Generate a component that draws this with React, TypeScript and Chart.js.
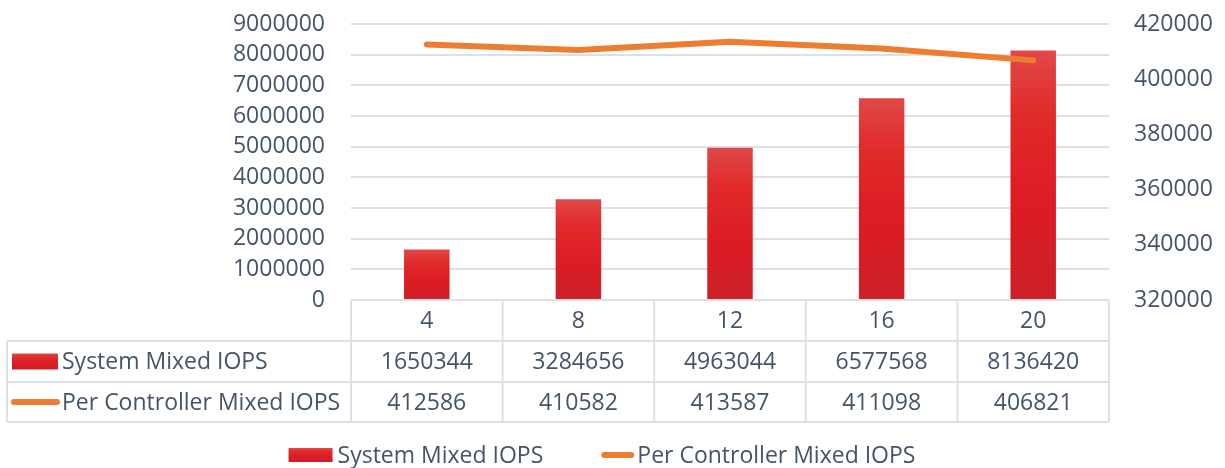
import React, { useEffect, useRef } from "react";
import { Chart, registerables } from "chart.js";

Chart.register(...registerables);

const categories = ["4", "8", "12", "16", "20"];
const systemIops = [1650344, 3284656, 4963044, 6577568, 8136420];
const perControllerIops = [412586, 410582, 413587, 411098, 406821];
const seriesNames = ["System Mixed IOPS", "Per Controller Mixed IOPS"];

const FONT = "'Open Sans', 'Noto Sans', sans-serif";
const FONT_SIZE = 23;
const TEXT = "#44546A";
const GRID = "#DCE1E8";
const ORANGE = "#ED7D31";

function barGradient(ctx: CanvasRenderingContext2D, top: number, bottom: number) {
  const g = ctx.createLinearGradient(0, top, 0, bottom);
  g.addColorStop(0, "#E14848");
  g.addColorStop(0.25, "#E02B2B");
  g.addColorStop(0.6, "#DD1C24");
  g.addColorStop(1, "#CC2027");
  return g;
}

const tablePlugin = {
  id: "dataTable",
  afterDraw(chart: any) {
    const ctx: CanvasRenderingContext2D = chart.ctx;
    const xs = chart.scales.x;
    const area = chart.chartArea;
    const n = categories.length;
    const cw = (area.right - area.left) / n;
    const top = area.bottom;
    const r1 = top + 41;
    const r2 = r1 + 41;
    const r3 = r2 + 40;
    const tableLeft = 7;
    ctx.save();
    ctx.strokeStyle = GRID;
    ctx.lineWidth = 2;
    ctx.beginPath();
    ctx.moveTo(area.left, top);
    ctx.lineTo(area.right, top);
    [r1, r2, r3].forEach((y) => {
      ctx.moveTo(tableLeft, y);
      ctx.lineTo(area.right, y);
    });
    for (let i = 0; i <= n; i++) {
      const x = area.left + i * cw;
      ctx.moveTo(x, top);
      ctx.lineTo(x, r3);
    }
    ctx.moveTo(tableLeft, r1);
    ctx.lineTo(tableLeft, r3);
    ctx.stroke();

    ctx.fillStyle = TEXT;
    ctx.font = `${FONT_SIZE}px ${FONT}`;
    ctx.textAlign = "center";
    ctx.textBaseline = "middle";
    const rows = [categories, systemIops.map(String), perControllerIops.map(String)];
    const mids = [(top + r1) / 2, (r1 + r2) / 2, (r2 + r3) / 2];
    rows.forEach((row, ri) => {
      row.forEach((v, i) => {
        const cx = xs.getPixelForValue(i);
        ctx.fillText(v, cx, mids[ri] + 1);
      });
    });

    ctx.textAlign = "left";
    ctx.fillStyle = barGradient(ctx, mids[1] - 8, mids[1] + 8);
    ctx.fillRect(12, mids[1] - 8, 46, 16);
    ctx.strokeStyle = ORANGE;
    ctx.lineWidth = 6;
    ctx.lineCap = "round";
    ctx.beginPath();
    ctx.moveTo(14, mids[2]);
    ctx.lineTo(57, mids[2]);
    ctx.stroke();
    ctx.fillStyle = TEXT;
    ctx.fillText(seriesNames[0], 62, mids[1] + 1);
    ctx.fillText(seriesNames[1], 62, mids[2] + 1);

    const ly = 455;
    const w0 = ctx.measureText(seriesNames[0]).width;
    const w1 = ctx.measureText(seriesNames[1]).width;
    const total = 44 + 5 + w0 + 58 + 30 + 6 + w1;
    let x = 602 - total / 2;
    ctx.fillStyle = barGradient(ctx, ly - 7, ly + 7);
    ctx.fillRect(x, ly - 7, 44, 14);
    x += 49;
    ctx.fillStyle = TEXT;
    ctx.fillText(seriesNames[0], x, ly + 1);
    x += w0 + 58;
    ctx.strokeStyle = ORANGE;
    ctx.lineWidth = 6;
    ctx.beginPath();
    ctx.moveTo(x + 3, ly);
    ctx.lineTo(x + 30, ly);
    ctx.stroke();
    x += 36;
    ctx.fillText(seriesNames[1], x, ly + 1);
    ctx.restore();
  },
};

export default function App() {
  const ref = useRef<HTMLCanvasElement | null>(null);
  useEffect(() => {
    if (!ref.current) return;
    const chart = new Chart(ref.current, {
      type: "bar",
      data: {
        labels: categories,
        datasets: [
          {
            type: "line",
            label: seriesNames[1],
            data: perControllerIops,
            yAxisID: "y2",
            borderColor: ORANGE,
            borderWidth: 6,
            borderCapStyle: "round",
            borderJoinStyle: "round",
            pointRadius: 0,
            tension: 0,
            order: 0,
          } as any,
          {
            type: "bar",
            label: seriesNames[0],
            data: systemIops,
            yAxisID: "y",
            backgroundColor: (c: any) => {
              const ch = c.chart;
              const ys = ch.scales?.y;
              if (!ys || c.raw === undefined) return "#DD1C24";
              const t = ys.getPixelForValue(c.raw);
              const b = ys.getPixelForValue(0);
              if (!isFinite(t) || !isFinite(b) || t === b) return "#DD1C24";
              return barGradient(ch.ctx, t, b);
            },
            barPercentage: 0.3,
            categoryPercentage: 1,
            order: 1,
          },
        ],
      },
      options: {
        responsive: false,
        animation: false,
        layout: { padding: { left: 0, right: 0, top: 24, bottom: 168 } },
        plugins: { legend: { display: false }, tooltip: { enabled: false } },
        scales: {
          x: { display: false },
          y: {
            position: "left",
            min: 0,
            max: 9000000,
            afterFit: (s: any) => {
              s.width = 351;
            },
            ticks: {
              stepSize: 1000000,
              padding: 0,
              color: TEXT,
              font: { family: FONT, size: FONT_SIZE },
              callback: (v: any) => String(v),
            },
            grid: {
              color: GRID,
              lineWidth: 2,
              drawTicks: true,
              tickLength: 26,
              tickColor: "rgba(0,0,0,0)",
            },
            border: { display: false },
          },
          y2: {
            position: "right",
            min: 320000,
            max: 420000,
            afterFit: (s: any) => {
              s.width = 116;
            },
            ticks: {
              stepSize: 20000,
              padding: 0,
              color: TEXT,
              font: { family: FONT, size: FONT_SIZE },
              callback: (v: any) => String(v),
            },
            grid: {
              display: true,
              drawOnChartArea: false,
              drawTicks: true,
              tickLength: 25,
              tickColor: "rgba(0,0,0,0)",
            },
            border: { display: false },
          },
        },
      },
      plugins: [tablePlugin],
    });
    return () => chart.destroy();
  }, []);
  return (
    <div style={{ position: "absolute", left: 0, top: 0, width: 1225, height: 468, background: "#fff" }}>
      <canvas ref={ref} width={1225} height={468} style={{ display: "block" }} />
    </div>
  );
}
